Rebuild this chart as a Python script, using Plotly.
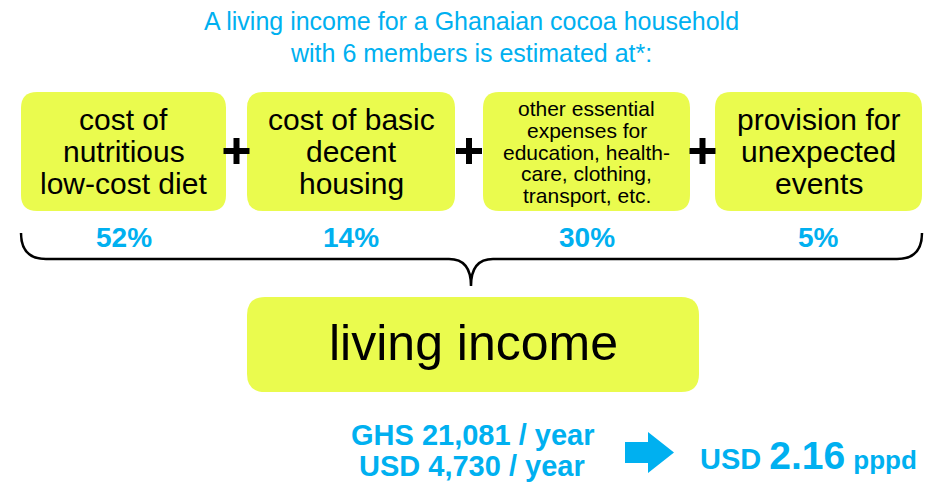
import plotly.graph_objects as go

# ---- data ----
title_lines = ["A living income for a Ghanaian cocoa household", "with 6 members is estimated at*:"]
components = [
    ["cost of", "nutritious", "low-cost diet"],
    ["cost of basic", "decent", "housing"],
    ["other essential", "expenses for", "education, health-", "care, clothing,", "transport, etc."],
    ["provision for", "unexpected", "events"],
]
shares_pct = [52, 14, 30, 5]
total_label = "living income"
annual_amounts = ["GHS 21,081 / year", "USD 4,730 / year"]
per_person_day_usd = 2.16

# ---- layout constants ----
W, H = 941, 483
FONT = "Liberation Sans, Arial, sans-serif"
BLUE = "#00B0F0"
YELLOW = "#EAFB4E"
box_x0 = [21, 247, 483, 715]
box_x1 = [226, 455, 690, 922]
box_y0, box_y1 = 92, 211


def rounded_rect(x0, y0, x1, y1, r):
    return (f"M {x0+r} {y0} L {x1-r} {y0} Q {x1} {y0} {x1} {y0+r} "
            f"L {x1} {y1-r} Q {x1} {y1} {x1-r} {y1} L {x0+r} {y1} "
            f"Q {x0} {y1} {x0} {y1-r} L {x0} {y0+r} Q {x0} {y0} {x0+r} {y0} Z")


fig = go.Figure()
shapes = []
annotations = []

# title
for i, t in enumerate(title_lines):
    annotations.append(dict(x=471, y=21 + 32 * i, text=t, showarrow=False,
                            font=dict(family=FONT, size=25, color=BLUE),
                            xanchor="center", yanchor="middle"))

# component boxes
for i, lines in enumerate(components):
    x0, x1 = box_x0[i], box_x1[i]
    shapes.append(dict(type="path", path=rounded_rect(x0, box_y0, x1, box_y1, 16),
                       fillcolor=YELLOW, line=dict(width=0), layer="below"))
    cx = (x0 + x1) / 2
    if len(lines) == 3:
        ys = [119, 151, 183]
        size = 30
    else:
        ys = [108, 130, 152, 173, 195]
        size = 21
    for y, t in zip(ys, lines):
        annotations.append(dict(x=cx, y=y, text=t, showarrow=False,
                                font=dict(family=FONT, size=size, color="black"),
                                xanchor="center", yanchor="middle"))
    annotations.append(dict(x=cx, y=237, text=f"<b>{shares_pct[i]}%</b>", showarrow=False,
                            font=dict(family=FONT, size=28, color=BLUE),
                            xanchor="center", yanchor="middle"))

# plus signs
for i in range(3):
    cx = (box_x1[i] + box_x0[i + 1]) / 2
    cy = 151
    shapes.append(dict(type="line", x0=cx - 13, x1=cx + 13, y0=cy, y1=cy,
                       line=dict(color="black", width=6)))
    shapes.append(dict(type="line", x0=cx, x1=cx, y0=cy - 13, y1=cy + 13,
                       line=dict(color="black", width=6)))

# brace
mid = 471
brace = (f"M 21 233 Q 21 259 46 259 L {mid-22} 259 Q {mid} 259 {mid} 286 "
         f"Q {mid} 259 {mid+22} 259 L 897 259 Q 922 259 922 233")
shapes.append(dict(type="path", path=brace, line=dict(color="black", width=2.5)))

# living income box
shapes.append(dict(type="path", path=rounded_rect(247, 297, 699, 392, 18),
                   fillcolor=YELLOW, line=dict(width=0), layer="below"))
annotations.append(dict(x=473, y=343, text=total_label, showarrow=False,
                        font=dict(family=FONT, size=50, color="black"),
                        xanchor="center", yanchor="middle"))

# annual amounts
for i, t in enumerate(annual_amounts):
    annotations.append(dict(x=472, y=435 + 31 * i, text=f"<b>{t}</b>", showarrow=False,
                            font=dict(family=FONT, size=29, color=BLUE),
                            xanchor="center", yanchor="middle"))

# arrow
arrow = "M 625 442 L 648 442 L 648 432 L 674 452.5 L 648 473 L 648 463 L 625 463 Z"
shapes.append(dict(type="path", path=arrow, fillcolor=BLUE, line=dict(width=0)))

annotations.append(dict(x=698, y=455,
                        text=(f"<b>USD <span style='font-size:39px'>{per_person_day_usd:.2f}</span> "
                              f"<span style='font-size:26px'>pppd</span></b>"),
                        showarrow=False, font=dict(family=FONT, size=29, color=BLUE),
                        xanchor="left", yanchor="middle"))

fig.update_layout(
    width=W, height=H,
    margin=dict(l=0, r=0, t=0, b=0),
    paper_bgcolor="white", plot_bgcolor="white",
    xaxis=dict(range=[0, W], visible=False, fixedrange=True),
    yaxis=dict(range=[H, 0], visible=False, fixedrange=True),
    shapes=shapes, annotations=annotations, showlegend=False,
)

fig.write_html("out.html", config={"displayModeBar": False},
               post_script="document.body.style.margin='0';document.body.style.overflow='hidden';")
